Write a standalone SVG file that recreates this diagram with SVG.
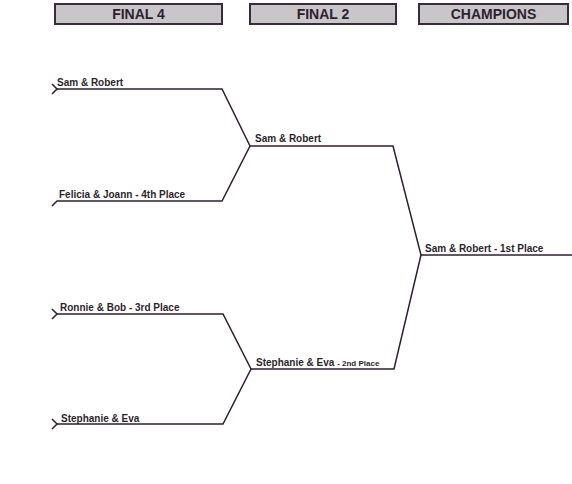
<svg xmlns="http://www.w3.org/2000/svg" width="572" height="484" viewBox="0 0 572 484">
<style>
.hdr rect{fill:#c9c6c9;stroke:#3b2a3b;stroke-width:2}
.hdr text{font-family:"Liberation Sans",Arial,sans-serif;font-weight:bold;font-size:14px;fill:#2e1f2e;text-anchor:middle}
.lbl{font-family:"Liberation Sans",Arial,sans-serif;font-weight:bold;font-size:10px;fill:#2e1f2e}
.sm{font-size:8px}
#connectors path{fill:none;stroke:#2e1f2e;stroke-width:1.5;stroke-linejoin:miter}
</style>
<rect width="572" height="484" fill="#fff"/>
<g id="hdr-final4" class="hdr"><rect x="55" y="4" width="167" height="20"/><text x="138.5" y="19">FINAL 4</text></g>
<g id="hdr-final2" class="hdr"><rect x="250" y="4" width="146" height="20"/><text x="323" y="19">FINAL 2</text></g>
<g id="hdr-champions" class="hdr"><rect x="419" y="4" width="149" height="20"/><text x="493.5" y="19">CHAMPIONS</text></g>
<g id="connectors">
<path d="M52,84 L57,89 L52,94"/>
<path d="M57,89 H222 L250,146 L222,201 H57 L52,206"/>
<path d="M52,309 L57,314 L52,319"/>
<path d="M57,314 H223 L251,369 L223,424 H57"/>
<path d="M52,419 L57,424 L52,429"/>
<path d="M250,146 H393 L421,255 L394,369 H251"/>
<path d="M421,255 H572"/>
</g>
<g id="n-sam-robert-f4"><text class="lbl" x="57" y="86">Sam &amp; Robert</text></g>
<g id="n-felicia-joann"><text class="lbl" x="59" y="198">Felicia &amp; Joann - 4th Place</text></g>
<g id="n-ronnie-bob"><text class="lbl" x="60" y="311">Ronnie &amp; Bob - 3rd Place</text></g>
<g id="n-stephanie-eva-f4"><text class="lbl" x="61" y="422">Stephanie &amp; Eva</text></g>
<g id="n-sam-robert-f2"><text class="lbl" x="255" y="142">Sam &amp; Robert</text></g>
<g id="n-stephanie-eva-f2"><text class="lbl" x="256" y="366">Stephanie &amp; Eva <tspan class="sm">- 2nd Place</tspan></text></g>
<g id="n-champion"><text class="lbl" x="425" y="252">Sam &amp; Robert - 1st Place</text></g>
</svg>
